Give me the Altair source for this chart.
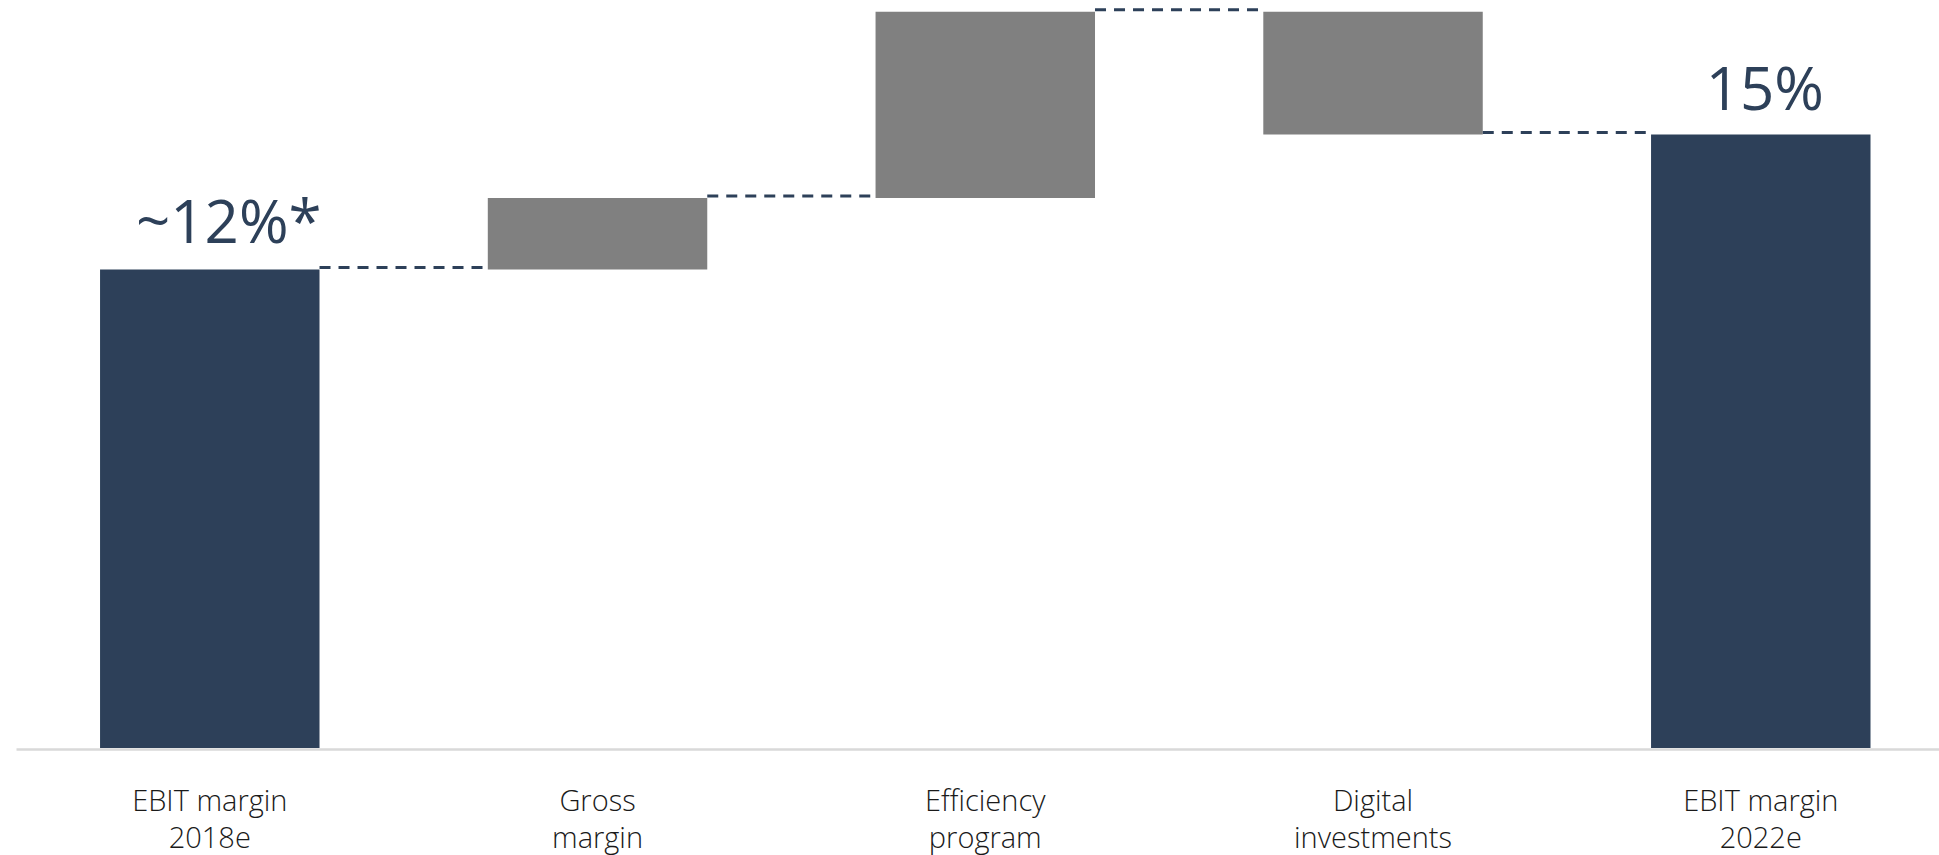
import altair as alt
import pandas as pd

# ---- data ----
categories = ["EBIT margin\n2018e", "Gross\nmargin", "Efficiency\nprogram",
              "Digital\ninvestments", "EBIT margin\n2022e"]
kinds = ["total", "delta", "delta", "delta", "total"]
values = [11.7, 1.75, 4.55, -3.0, 15.0]   # totals are levels, deltas are changes (%-pts)
value_labels = ["~12%*", "", "", "", "15%"]

# ---- build waterfall table ----
rows = []
level = 0.0
for i, (c, k, v, lab) in enumerate(zip(categories, kinds, values, value_labels)):
    if k == "total":
        start, end = 0.0, v
    else:
        start, end = level, level + v
    level = end
    rows.append({"idx": i, "cat": c, "kind": k, "start": start, "end": end, "label": lab})
df = pd.DataFrame(rows)

conn = pd.DataFrame([
    {"from": categories[i], "to": categories[i + 1], "level": df.loc[i, "end"]}
    for i in range(len(categories) - 1)
])

NAVY = "#2d4059"
GRAY = "#808080"
FONT = "Open Sans"

xscale = alt.Scale(domain=categories, paddingInner=0.434, paddingOuter=0.1967, align=0.551)
yscale = alt.Scale(domain=[0, 18.29], nice=False, zero=True)

base = alt.Chart(df)

bars = base.mark_bar().encode(
    x=alt.X("cat:N", scale=xscale, sort=categories,
            axis=alt.Axis(title=None, ticks=False, labelPadding=38,
                          labelExpr="split(datum.label, '\\n')",
                          labelFont=FONT, labelFontSize=29, labelFontWeight=300,
                          labelColor="#1a1a1a",
                          labelLineHeight=37, labelAngle=0, grid=False,
                          domainColor="#d9d9d9", domainWidth=2.5, offset=1)),
    y=alt.Y("start:Q", scale=yscale, axis=None),
    y2="end:Q",
    color=alt.Color("kind:N", scale=alt.Scale(domain=["total", "delta"], range=[NAVY, GRAY]),
                    legend=None),
)

connectors = alt.Chart(conn).mark_rule(
    color=NAVY, strokeWidth=3, strokeDash=[11, 8], yOffset=-2
).encode(
    x=alt.X("from:N", scale=xscale, sort=categories, bandPosition=1),
    x2=alt.X2("to:N", bandPosition=0),
    y=alt.Y("level:Q", scale=yscale),
)

label_left = base.transform_filter("datum.idx == 0").mark_text(
    font=FONT, fontSize=60, color=NAVY, baseline="alphabetic", align="center", dx=19, dy=-27
).encode(
    x=alt.X("cat:N", scale=xscale, sort=categories),
    y=alt.Y("end:Q", scale=yscale),
    text="label:N",
)

label_right = base.transform_filter("datum.idx == 4").mark_text(
    font=FONT, fontSize=60, color=NAVY, baseline="alphabetic", align="center", dx=4, dy=-25
).encode(
    x=alt.X("cat:N", scale=xscale, sort=categories),
    y=alt.Y("end:Q", scale=yscale),
    text="label:N",
)

chart = alt.layer(bars, connectors, label_left, label_right).properties(
    width=1923, height=748,
    background="white",
    autosize=alt.AutoSizeParams(type="none"),
    padding={"left": 16, "top": 0, "right": 0, "bottom": 107},
).configure_view(stroke=None, strokeWidth=0)

chart.save("out.html", embed_options={"renderer": "svg", "actions": False})
